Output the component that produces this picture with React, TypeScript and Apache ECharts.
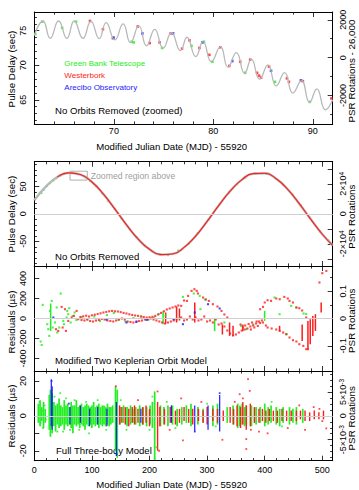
import React, { useEffect, useRef } from 'react';
import * as echarts from 'echarts';

// ---------- constants relating the two vertical scales ----------
const PSR_FREQ = 365.95; // pulsar rotations per second
const ZOOM_OFFSET_SEC = 71.1; // delay that corresponds to 26,000 rotations

// ---------- axis ranges and tick labels ----------
const zoomDayRange = [62, 92];
const zoomDelayRange = [61.5, 77.7];
const dayRange = [0, 518];
const delayRange = [-95, 95];
const kepResRange = [-525, 525];
const fullResRange = [-25.7, 25.7];

const zoomDayTicks = [70, 80, 90];
const zoomDelayTicks = [65, 70, 75];
const zoomRotTicks = [-2000, 0, 2000];
const dayTicks = [0, 100, 200, 300, 400, 500];
const delayTicks = [-50, 0, 50];
const delayRotTicks = [-20000, 0, 20000];
const kepResTicks = [-400, -200, 0, 200, 400];
const kepRotTicks = [-0.1, 0, 0.1];
const fullResTicks = [-20, 0, 20];
const fullRotTicks = [-0.005, 0, 0.005];

// ---------- Panel 1: no orbits removed (zoomed) ----------
const zoomCurve = [
  [62.0, 74.3], [62.87, 76.4], [63.6, 73.9], [64.44, 76.4], [65.28, 73.9], [66.01, 76.4],
  [66.89, 73.9], [67.69, 76.35], [68.53, 73.85], [69.22, 76.15], [70.1, 73.66], [70.93, 75.97],
  [71.67, 73.27], [72.51, 75.68], [73.28, 72.8], [74.11, 75.2], [74.95, 72.46], [75.79, 74.7],
  [76.69, 72.11], [77.35, 74.05], [78.23, 71.25], [78.96, 73.41], [79.8, 70.53], [80.71, 72.69],
  [81.47, 69.72], [82.31, 71.83], [83.14, 68.85], [83.82, 70.87], [84.65, 67.99], [85.48, 70.05],
  [86.32, 67.02], [87.16, 68.94], [87.99, 65.97], [88.86, 67.78], [89.67, 64.61], [90.4, 66.59],
  [91.27, 63.56], [92.0, 65.0],
];
const zoomGbt = [
  [62.1, 74.5], [62.8, 76.3], [64.8, 75.4], [66.2, 76.3], [71.8, 73.4], [72.0, 73.3], [74.85, 72.5],
  [77.8, 72.8], [79.05, 73.4], [79.9, 70.5], [83.2, 68.9], [86.2, 67.6], [89.7, 64.7],
];
const zoomWsrt = [
  [67.6, 76.4], [68.9, 75.2], [69.9, 73.9], [72.4, 75.6], [73.6, 73.2], [74.6, 73.3], [75.7, 74.6],
  [76.85, 72.4], [77.6, 73.6], [78.6, 72.5], [79.6, 71.5], [80.7, 72.6], [81.6, 69.9], [82.7, 70.5],
  [83.7, 70.8], [84.4, 68.9], [84.6, 68.5], [84.8, 68.2], [85.6, 69.8], [87.4, 68.1], [87.6, 67.6],
  [89.0, 67.7], [91.87, 65.2],
];
const zoomAo = [
  [69.96, 74.0], [72.86, 74.6], [75.95, 74.6], [78.9, 73.3], [81.9, 70.6], [85.8, 69.2], [88.8, 67.8],
];

// ---------- Panel 2: no orbits removed ----------
const fullCurve = [
  [0, 24.8], [20, 49.5], [40, 67.0], [60, 74.7], [80, 71.6], [100, 58.0], [120, 35.9], [140, 8.6],
  [160, -20.0], [180, -45.6], [200, -64.6], [220, -74.2], [240, -73.0], [260, -61.1], [280, -40.5],
  [300, -13.7], [320, 15.0], [340, 41.5], [360, 61.9], [380, 73.2], [400, 73.9], [420, 63.9],
  [440, 44.4], [460, 18.5], [480, -10.0], [500, -37.2], [518, -57.5],
];
const fullGbtDelay = [
  [12, 38], [16, 44], [22, 51], [27, 56], [33, 61], [38, 65], [45, 70], [52, 73], [58, 74.5], [66, 75],
  [75, 73], [88, 67], [97, 60], [108, 50], [118, 38], [128, 24], [140, 8.6], [152, -9], [166, -28],
  [178, -43], [192, -58], [206, -69], [218, -74], [232, -75], [250, -67], [268, -54], [284, -35],
  [302, -11], [322, 18], [338, 39], [352, 54], [366, 66], [384, 74], [404, 73], [418, 65], [432, 53],
  [448, 35], [462, 16], [478, -7], [496, -32], [510, -48],
];

// ---------- Panel 3: modified two Keplerian orbit model (µs) ----------
const kepGbt = [
  [11, -230], [12.8, -265], [14.6, 136], [22.5, -57], [24.3, -107], [26, -174], [27.2, 76], [30.2, 176],
  [31.9, -90], [35.9, -40], [38.8, 110], [39.9, -140], [43.3, -90], [45.8, 250], [50.3, -24], [51.5, -57],
  [56.2, 10], [57.2, 76], [58.9, 43], [60.7, 103], [63.1, -40], [66.6, 26], [70, 60], [73, -15], [82, 15],
  [92, -10], [104, 20], [114, -25], [126, 35], [138, 55], [146, -15], [158, -30], [172, 5], [186, 20],
  [198, -15], [208, 10], [216, 45], [228, 30], [258, 216], [252.5, 3], [276.8, 250], [287.2, 226],
  [288.4, 93], [296, 190], [330, -40], [359, -74], [368, -107], [380, -60], [417, 210], [425.8, 43],
  [438.5, -157], [446, 126], [454.8, 110], [467.4, 50], [472, 45],
];
const kepGbtBars = [
  [28.4, -124, 150], [223.6, -57, 73], [313, -127, 6], [399.8, -24, 76],
];
const kepWsrt = [
  [37.6, -107], [41.6, -124], [47.5, 116], [49.2, -90], [53.2, 93], [54.9, -124], [58.9, -24], [64.8, 10],
  [68.8, 26], [73.5, 76], [76.3, -7],
  [80, 15], [85, 22], [90, 28], [95, 20], [100, 32], [105, 38], [110, 45], [115, 52], [120, 60], [125, 66],
  [130, 72], [135, 76], [140, 72], [145, 70], [150, 64], [155, 56], [160, 50], [165, 42], [170, 35],
  [175, 30], [180, 26], [185, 20], [190, 15], [195, 10], [200, 12], [205, 16], [210, 26], [215, 40],
  [220, 56], [225, 72], [230, 90], [235, 100], [240, 110], [245, 120], [250, 130],
  [82, -15], [87, -20], [92, -10], [97, -25], [102, -30], [107, -20], [112, -15], [117, -5], [122, -10],
  [127, -20], [132, -25], [137, -30], [142, -20], [147, -10], [152, 0], [157, -10], [162, -30], [167, -35],
  [172, -40], [177, -35], [182, -25], [187, -20], [192, -10], [197, -5], [202, 0], [207, -10], [212, -20],
  [217, -30], [222, -40], [227, -50], [232, -40], [237, -30], [242, -20], [247, -10],
  [255, 126], [260, 180], [265, 176], [267, 226], [273, 276], [278, 293], [282, 276], [284, 250],
  [293, 210], [298, 190], [303, 176], [310, 143], [318, 120], [325, 76], [330, 40], [335, 10],
  [255, 10], [260, -20], [265, -10], [270, 20], [275, -10], [280, 10], [285, -20], [290, -10], [295, 20],
  [300, -30], [305, -20], [310, -40], [315, -10], [320, -60], [325, -50],
  [330, -80], [335, -120], [340, -150], [345, -170], [350, -160], [355, -140], [360, -120], [365, -110],
  [370, -100], [375, -80], [380, -70], [385, -50], [390, -30], [395, -20], [358, -60], [362, -90],
  [366, -70], [372, -55], [376, -110], [378, -40], [382, -90], [386, -30], [388, -75], [392, -45],
  [392, 93], [397, 116], [400, 160], [405, 183], [411, 176], [420, 200], [426, 193], [434, 216],
  [440, 200], [443, 176], [449, 160], [455, 110], [460, 103], [465, 80], [472, 10],
  [397, -40], [402, -70], [405, -90], [412, -100], [420, -110], [426, -124], [432, -140], [437, -157],
  [443, -190], [449, -217], [455, -230], [460, -257], [467, -274], [472, -307], [475, -307],
  [495, 360], [500, 453], [507, 476],
];
const kepWsrtBars = [
  [228, -50, 60], [247, -40, 120], [252, -20, 100], [278.5, -40, 160], [326.5, -160, -60], [339, -174, -40],
  [345, -174, -73], [362, -127, -60], [425.8, -127, -73], [465, -224, -60], [475, -307, -24],
  [479, -257, -7], [483.5, -174, 26], [488, -124, 43], [498, 60, 160],
];
const kepAo = [
  [33, 10], [125.5, -10], [160, -40], [177.5, -30], [195, -14], [242, -7], [258, -57], [278.5, 60],
  [301.6, 143], [321.8, 100],
];

// ---------- Panel 4: full three-body model (µs) ----------
const fullGbtBars = [
  [7, -4, 7], [10, -6, 9], [13, -3, 5], [16, -7, 8], [19, -4, 4],
  [26, -8, 12], [28, -12, 15], [31, -10, 13], [34, -6, 8], [37, -9, 6], [40, -5, 7], [43, -7, 10],
  [46, -6, 6], [49, -5, 5], [52, -8, 9], [55, -5, 6], [58, -6, 7], [61, -5, 5], [64, -7, 8], [67, -10, 6],
  [70, -5, 6], [73, -6, 9], [76, -5, 5], [79, -7, 6], [82, -5, 7], [85, -6, 5], [88, -8, 6], [91, -5, 7],
  [94, -6, 6], [97, -5, 5], [100, -7, 6], [103, -5, 8], [106, -6, 5], [109, -5, 6], [112, -7, 7],
  [115, -5, 5], [118, -6, 6], [121, -5, 6], [124, -6, 5], [127, -5, 7], [130, -6, 5], [133, -5, 5],
  [136, -4, 6], [141, -20, 17], [144, -24, 15],
  [149, -5, 5], [155, -4, 6], [161, -6, 5], [167, -5, 6], [171, -4, 4], [176, -5, 5], [183, -6, 6],
  [189, -5, 5], [195, -6, 5], [201, -5, 6], [205, -7, 8], [209, -25, 14], [219, -6, 6], [225, -5, 5],
  [232, -6, 6], [240, -5, 6], [248, -6, 4], [256, -5, 5], [264, -4, 6], [272, -6, 7], [284, -5, 5],
  [293, -4, 4], [310, -6, 6], [318, -5, 7], [335, -4, 5], [345, -5, 6], [353, -7, 7], [357, -6, 6],
  [361, -5, 7], [365, -6, 5], [368, -5, 6], [377, -6, 6], [385, -5, 5], [392, -4, 5], [400, -6, 7],
  [406, -5, 5], [411, -4, 6], [420, -5, 5], [426, -6, 4], [432, -4, 5], [443, -5, 5], [449, -4, 4],
  [455, -5, 5], [466, -4, 4],
];
const fullWsrtBars = [
  [148, -5, 6], [152, -4, 5], [158, -5, 5], [164, -6, 4], [170, -4, 5], [174, -5, 6], [180, -4, 4],
  [188, -5, 5], [194, -4, 6], [200, -6, 4], [214, -20, 8], [218, -6, 5], [226, -5, 4], [236, -4, 5],
  [245, -5, 3], [252, -4, 4], [260, -3, 5], [268, -4, 4], [275, -5, 4], [285, -3, 4], [293, -4, 3],
  [300, -5, 5], [310, -3, 4], [318, -4, 4], [328, -3, 3], [340, -4, 5], [346, -5, 4], [352, -6, 6],
  [358, -7, 5], [362, -5, 8], [368, -8, 6], [375, -6, 7], [382, -4, 5], [390, -4, 4], [396, -3, 4],
  [402, -4, 3], [408, -3, 4], [415, -3, 3], [422, -4, 3], [430, -3, 4], [438, -3, 3], [446, -3, 3],
  [455, -3, 3], [462, -2, 3], [470, -3, 3], [478, -3, 2], [486, -2, 3], [494, -2, 2], [502, -2, 3],
];
const fullAoBars = [
  [29.5, -6, 21], [31, -8, 17], [62, -5, 5], [80, -4, 6], [96, -6, 4], [110, -5, 5], [126, -6, 4],
  [142.5, -23, 8], [185, -4, 4], [238, -4, 6], [278.5, -9, 6], [301.6, -8, 6], [321.8, -9, 12],
];
const fullGbtDots = [
  [9, 8], [11, -4], [14, 3], [15, -7], [18, 6], [20, -2], [35, 11], [40, -9], [45, 13], [50, -9], [55, 10],
  [62, -8], [70, 9], [78, -8], [90, 8], [95, -10], [110, 9], [125, -8], [150, 9], [160, -8], [200, -8],
  [205, 11], [209, -24.7], [212, -18], [230, 8], [245, -7], [300, 7], [315, -6], [412, 8], [430, -6],
];
const fullWsrtDots = [
  [141.6, 17], [180, 9], [214, 14], [216.6, -20], [235, -8], [255, 10], [258, -14], [290, 8],
  [326.5, -13.7], [348, 8], [356.5, 12.4], [362, 10], [368, -13.3], [368, -19], [371, 21], [374, 14.3],
  [376, -8], [390, -9], [405, -10], [440, -7], [460, 6], [470, -8], [485, 5], [495, 4], [500, -3],
  [506.8, -7.2],
];
const fullAoDots = [[30, 20], [60, 7], [143, -22], [278.5, -9], [321.8, 13]];

// ---------- styling ----------
const FONT = "'Liberation Sans', Arial, Helvetica, sans-serif";
const GREEN = '#22ee22';
const RED = '#ff1c1c';
const BLUE = '#1c1cff';
const CURVE = '#b8b8b8';

const pick = (ticks: number[], fmt: (v: number) => string) => (v: number) =>
  ticks.some((t) => Math.abs(t - v) < 1e-9 * (1 + Math.abs(t))) ? fmt(v) : '';

const supRich = { sup: { fontSize: 6.5, lineHeight: 7, verticalAlign: 'top', fontFamily: FONT, color: '#000' } };

const tick = (len: number) => ({ show: true, inside: true, length: len, lineStyle: { color: '#000', width: 0.8 } });
const minor = (n: number) => ({ show: n > 1, splitNumber: n, length: 2.6, lineStyle: { color: '#000', width: 0.8 } });
const line = { show: true, onZero: false, lineStyle: { color: '#000', width: 1 } };

function xAxes(gi: number, range: number[], split: number, minorN: number, label: any) {
  const base: any = {
    type: 'value', gridIndex: gi, min: range[0], max: range[1], splitNumber: split,
    splitLine: { show: false }, axisLine: line, axisTick: tick(5), minorTick: minor(minorN),
  };
  return [
    { ...base, position: 'bottom', axisLabel: label ? { fontSize: 9, color: '#000', fontFamily: FONT, showMinLabel: label.showMin, showMaxLabel: false, margin: label.margin, formatter: label.formatter } : { show: false } },
    { ...base, position: 'top', axisLabel: { show: false } },
  ];
}

function yAxis(gi: number, pos: string, range: number[], split: number, minorN: number, formatter: any, margin: number) {
  return {
    type: 'value', gridIndex: gi, position: pos, min: range[0], max: range[1], splitNumber: split,
    splitLine: { show: false }, axisLine: line, axisTick: tick(5), minorTick: minor(minorN),
    axisLabel: {
      rotate: 90, fontSize: 9, color: '#000', fontFamily: FONT, margin, lineHeight: 11,
      showMinLabel: false, showMaxLabel: false, formatter, rich: supRich,
    },
  };
}

const dots = (data: number[][], color: string, idx: number, size: number) => ({
  type: 'scatter', xAxisIndex: idx, yAxisIndex: idx, data, symbol: 'rect', symbolSize: size,
  itemStyle: { color }, silent: true,
});

const bars = (data: number[][], color: string, idx: number, width: number) => ({
  type: 'custom', xAxisIndex: idx, yAxisIndex: idx, data, silent: true,
  encode: { x: 0, y: [1, 2] },
  renderItem: (_p: any, api: any) => {
    const a = api.coord([api.value(0), api.value(1)]);
    const b = api.coord([api.value(0), api.value(2)]);
    return { type: 'line', shape: { x1: a[0], y1: a[1], x2: b[0], y2: b[1] }, style: { stroke: color, lineWidth: width } };
  },
});

const zeroLine = {
  silent: true, symbol: ['none', 'none'], label: { show: false },
  lineStyle: { color: '#cfcfcf', width: 1, type: 'solid' }, data: [{ yAxis: 0 }],
};

const txt = (text: string, x: number, y: number, o: any = {}) => ({
  type: 'text', x, y, rotation: o.rot || 0, silent: true,
  style: {
    text, fill: o.color || '#000', fontSize: o.size || 9.6, fontFamily: FONT,
    align: o.align || 'left', verticalAlign: 'middle',
  },
});

function buildOption() {
  const zoomRotRange = zoomDelayRange.map((v) => (v - ZOOM_OFFSET_SEC) * PSR_FREQ);
  const delayRotRange = delayRange.map((v) => v * PSR_FREQ);
  const kepRotRange = kepResRange.map((v) => v * 1e-6 * PSR_FREQ);
  const fullRotRange = fullResRange.map((v) => v * 1e-6 * PSR_FREQ);
  const GL = 34.3;
  const GR = 26.3;
  const PI2 = Math.PI / 2;

  return {
    animation: false,
    backgroundColor: '#fff',
    grid: [
      { left: GL, right: GR, top: 12, height: 112, outerBoundsMode: 'none' },
      { left: GL, right: GR, top: 161.7, height: 104.3, outerBoundsMode: 'none' },
      { left: GL, right: GR, top: 266, height: 105, outerBoundsMode: 'none' },
      { left: GL, right: GR, top: 371, height: 89.7, outerBoundsMode: 'none' },
    ],
    xAxis: [
      ...xAxes(0, zoomDayRange, 3, 5, { showMin: false, margin: 2, formatter: pick(zoomDayTicks, String) }),
      ...xAxes(1, dayRange, 5, 5, null),
      ...xAxes(2, dayRange, 5, 5, null),
      ...xAxes(3, dayRange, 5, 5, { showMin: true, margin: 5, formatter: pick(dayTicks, String) }),
    ],
    yAxis: [
      yAxis(0, 'left', zoomDelayRange, 3, 5, pick(zoomDelayTicks, String), 6),
      yAxis(0, 'right', zoomRotRange, 3, 2, pick(zoomRotTicks, String), 5),
      yAxis(1, 'left', delayRange, 4, 5, pick(delayTicks, String), 6),
      yAxis(1, 'right', delayRotRange, 7, 1, pick(delayRotTicks, (v) => (v === 0 ? '0' : `${v / 1e4}×10{sup|4}`)), 5),
      yAxis(2, 'left', kepResRange, 5, 1, pick(kepResTicks, String), 6),
      yAxis(2, 'right', kepRotRange, 4, 2, pick(kepRotTicks, (v) => (v === 0 ? '0' : String(Math.round(v * 10) / 10))), 5),
      yAxis(3, 'left', fullResRange, 5, 1, pick(fullResTicks, String), 6),
      yAxis(3, 'right', fullRotRange, 4, 4, pick(fullRotTicks, (v) => (v === 0 ? '0' : `${Math.round(v * 1000)}×10{sup|-3}`)), 5),
    ],
    series: [
      // panel 1
      {
        type: 'line', xAxisIndex: 0, yAxisIndex: 0, data: zoomCurve, smooth: 0.5, symbol: 'none',
        lineStyle: { color: CURVE, width: 1.3 }, silent: true,
      },
      dots(zoomGbt, GREEN, 0, 2.6),
      dots(zoomWsrt, RED, 0, 2.6),
      dots(zoomAo, BLUE, 0, 2.6),
      // panel 2
      {
        type: 'line', xAxisIndex: 2, yAxisIndex: 2, data: fullCurve, smooth: 0.5, symbol: 'none',
        lineStyle: { color: CURVE, width: 2.4 }, silent: true,
        markLine: zeroLine,
        markArea: {
          silent: true, label: { show: false },
          itemStyle: { color: 'rgba(0,0,0,0)', borderColor: '#9a9a9a', borderWidth: 0.8 },
          data: [[{ coord: [zoomDayRange[0], zoomDelayRange[1]] }, { coord: [zoomDayRange[1], zoomDelayRange[0]] }]],
        },
      },
      {
        type: 'line', xAxisIndex: 2, yAxisIndex: 2, data: fullCurve.slice(2), smooth: 0.5, symbol: 'none',
        lineStyle: { color: RED, width: 1.1 }, silent: true,
      },
      dots(fullGbtDelay, GREEN, 2, 2.2),
      // panel 3
      { ...dots(kepGbt, GREEN, 4, 2.1), markLine: zeroLine },
      bars(kepGbtBars, GREEN, 4, 1.5),
      bars(kepWsrtBars, RED, 4, 1.5),
      dots(kepWsrt, RED, 4, 2.1),
      dots(kepAo, BLUE, 4, 2.1),
      // panel 4
      { ...dots(fullGbtDots, GREEN, 6, 1.8), markLine: zeroLine },
      bars(fullGbtBars, GREEN, 6, 1.7),
      bars(fullWsrtBars, RED, 6, 1.4),
      dots(fullWsrtDots, RED, 6, 1.8),
      bars(fullAoBars, BLUE, 6, 1.2),
      dots(fullAoDots, BLUE, 6, 1.8),
    ],
    graphic: [
      txt('Modified Julian Date (MJD) - 55920', 171.7, 146, { align: 'center' }),
      txt('Modified Julian Date (MJD) - 55920', 171.7, 484, { align: 'center' }),
      txt('Pulse Delay (sec)', 11.5, 69, { align: 'center', rot: PI2, size: 9.8 }),
      txt('Pulse Delay (sec)', 11.5, 214, { align: 'center', rot: PI2, size: 9.8 }),
      txt('Residuals (µs)', 11.5, 322, { align: 'center', rot: PI2, size: 9.8 }),
      txt('Residuals (µs)', 11.5, 416, { align: 'center', rot: PI2, size: 9.8 }),
      txt('PSR Rotations - 26,000', 351.7, 71, { align: 'center', rot: PI2, size: 9.8 }),
      txt('PSR Rotations', 351.7, 216.7, { align: 'center', rot: PI2, size: 9.8 }),
      txt('PSR Rotations', 351.7, 320.8, { align: 'center', rot: PI2, size: 9.8 }),
      txt('PSR Rotations', 351.7, 418.3, { align: 'center', rot: PI2, size: 9.8 }),
      txt('Green Bank Telescope', 64.3, 63.3, { color: GREEN, size: 8 }),
      txt('Westerbork', 64.3, 75.5, { color: RED, size: 8 }),
      txt('Arecibo Observatory', 64.3, 87, { color: BLUE, size: 8 }),
      txt('No Orbits Removed (zoomed)', 55, 110),
      txt('Zoomed region above', 90.7, 175.7, { color: '#a0a0a0', size: 8.7 }),
      txt('No Orbits Removed', 55, 256),
      txt('Modified Two Keplerian Orbit Model', 55, 360),
      txt('Full Three-body Model', 56, 450),
    ],
  };
}

export default function App() {
  const ref = useRef<HTMLDivElement>(null);
  useEffect(() => {
    if (!ref.current) return;
    const chart = echarts.init(ref.current, undefined, { renderer: 'svg' });
    chart.setOption(buildOption() as any);
    return () => chart.dispose();
  }, []);
  return (
    <div
      ref={ref}
      style={{ position: 'fixed', left: 0, top: 0, width: 359, height: 490, background: '#fff' }}
    />
  );
}
